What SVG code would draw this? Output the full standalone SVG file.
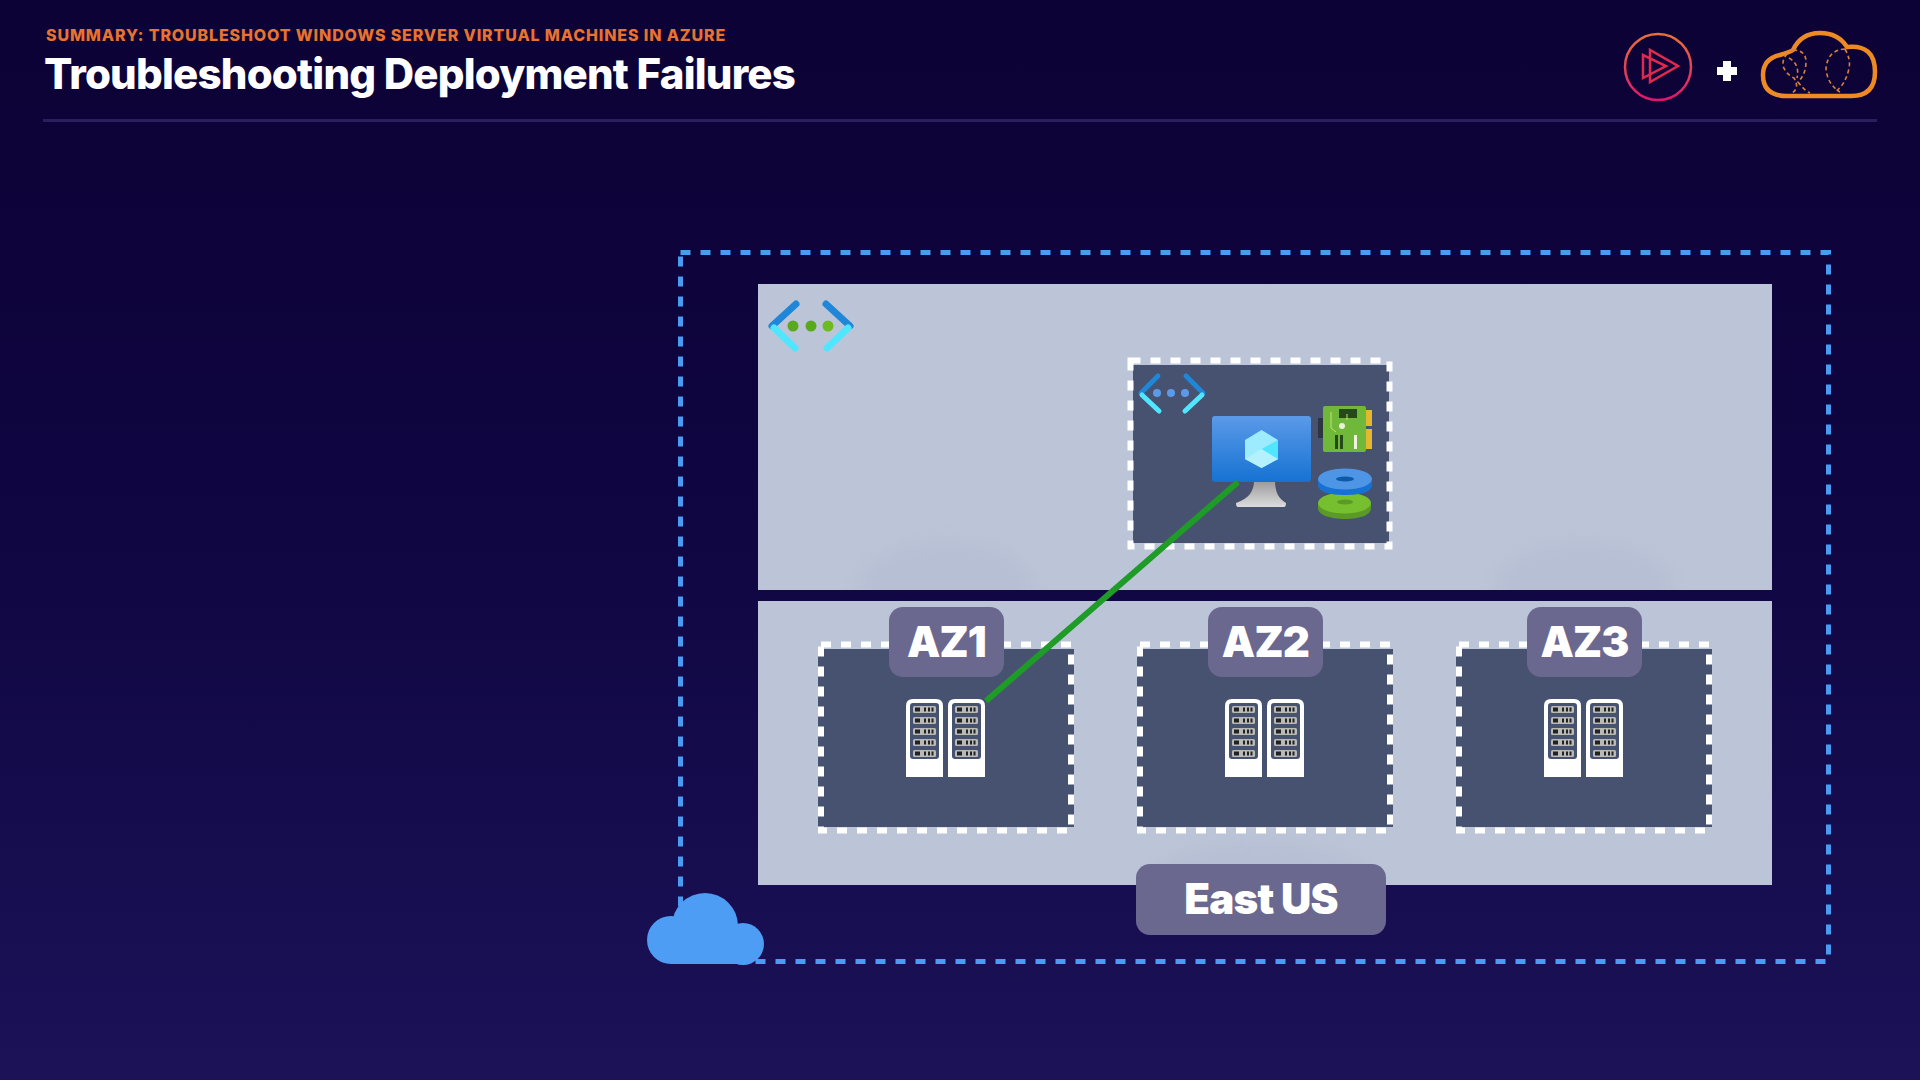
<svg xmlns="http://www.w3.org/2000/svg" width="1920" height="1080" viewBox="0 0 1920 1080">
<style>
.f{font-family:Inter,"Liberation Sans",sans-serif;font-weight:800}
.panel{fill:#bcc5d8}
.box{fill:#46526f}
.wd{fill:none;stroke:#fff;stroke-width:6;stroke-dasharray:10 10}
.tag{fill:#6b6890}
.tagt{font-size:42px;fill:#fff;text-anchor:middle;font-family:Inter,"Liberation Sans",sans-serif;font-weight:900;letter-spacing:-.8px}
.halo{fill:#a4abc4;opacity:.22;filter:url(#soft)}
</style>
<defs>
<linearGradient id="bg" x1="0" y1="0" x2="0" y2="1"><stop offset="0" stop-color="#0d0235"/><stop offset=".45" stop-color="#0f0540"/><stop offset="1" stop-color="#1b1258"/></linearGradient>
<linearGradient id="ps" x1="0" y1="0" x2="0" y2="1"><stop offset="0" stop-color="#e8713a"/><stop offset="1" stop-color="#e0166e"/></linearGradient>
<linearGradient id="mon" x1="0" y1="0" x2="0" y2="1"><stop offset="0" stop-color="#5b9ae8"/><stop offset="1" stop-color="#1672d2"/></linearGradient>
<linearGradient id="stand" x1="0" y1="0" x2="0" y2="1"><stop offset="0" stop-color="#9a9a9a"/><stop offset="1" stop-color="#dcdcdc"/></linearGradient>
<filter id="soft" x="-30%" y="-30%" width="160%" height="160%"><feGaussianBlur stdDeviation="9"/></filter>
<clipPath id="top"><rect x="758" y="284" width="1014" height="306"/></clipPath>
<clipPath id="bot"><rect x="758" y="601" width="1014" height="284"/></clipPath>
<g id="rack">
<path d="M7 0H30Q37 0 37 7V78H0V7Q0 0 7 0Z" fill="#fff"/>
<rect x="4" y="4" width="29" height="56" rx="3" fill="#46526f"/>
<g id="slot"><rect x="7" y="7" width="23" height="7" rx="1.5" fill="#b9bab6"/><rect x="9" y="8.500" width="5" height="4" fill="#222"/><rect x="18" y="8.500" width="2" height="4" fill="#222"/><rect x="22" y="8.500" width="2" height="4" fill="#222"/><rect x="25.500" y="8.500" width="2" height="4" fill="#222"/></g>
<use href="#slot" y="11"/><use href="#slot" y="22"/><use href="#slot" y="33"/><use href="#slot" y="44"/>
</g>
<g id="servers"><use href="#rack"/><use href="#rack" x="42"/></g>
</defs>
<rect width="1920" height="1080" fill="url(#bg)"/>
<g id="header">
<text class="f" x="46" y="41" font-size="16" font-weight="700" fill="#e8722f" letter-spacing=".86">SUMMARY: TROUBLESHOOT WINDOWS SERVER VIRTUAL MACHINES IN AZURE</text>
<text class="f" x="44" y="89" font-size="42" font-weight="900" fill="#fff" letter-spacing="-.8">Troubleshooting Deployment Failures</text>
<rect x="43" y="119" width="1834" height="3" fill="#2a1f5c"/>
</g>
<g id="logo-play">
<circle cx="1658" cy="67" r="33" fill="none" stroke="url(#ps)" stroke-width="2.500"/>
<path d="M1650 50V82L1678 66Z M1643 55V78L1666 66Z" fill="none" stroke="#e0294f" stroke-width="2.500"/>
</g>
<g id="plus"><path d="M1717 67h6v-6h8v6h6v8h-6v6h-8v-6h-6z" fill="#fff"/></g>
<g id="logo-cloud">
<path d="M1787 96Q1763 96 1763 75Q1763 59 1780 55Q1790 52 1793 50Q1801 33 1820 33Q1838 33 1847 47Q1875 44 1875 72Q1875 96 1851 96Z" fill="none" stroke="#ee8a24" stroke-width="4.500"/>
<g fill="none" stroke="#d9803c" stroke-width="1.600" stroke-dasharray="4 3">
<path d="M1793 50Q1806 50 1806 62Q1806 74 1798 82Q1804 90 1810 93"/>
<path d="M1793 50Q1782 55 1783 66Q1786 74 1794 78Q1800 88 1792 93"/>
<path d="M1789 58Q1800 64 1797 78"/>
<path d="M1845 49Q1851 60 1849 68Q1846 84 1835 92M1845 49Q1828 50 1826 68Q1827 84 1840 92"/>
</g>
</g>
<g id="outer-boundary"><rect x="680.500" y="252.500" width="1148" height="709" fill="none" stroke="#4b9bf2" stroke-width="5" stroke-dasharray="10 10"/></g>
<g id="vnet-panel">
<rect class="panel" x="758" y="284" width="1014" height="306"/>
<g clip-path="url(#top)"><ellipse class="halo" cx="946" cy="590" rx="90" ry="50"/><ellipse class="halo" cx="1584" cy="590" rx="90" ry="50"/></g>
<g id="vnet-icon">
<path d="M796 304L772 326" stroke="#2087d8" stroke-width="7" stroke-linecap="round" fill="none"/>
<path d="M774 328L795 348" stroke="#50e6ff" stroke-width="7" stroke-linecap="round" fill="none"/>
<path d="M826 304L850 326" stroke="#2087d8" stroke-width="7" stroke-linecap="round" fill="none"/>
<path d="M848 328L827 348" stroke="#50e6ff" stroke-width="7" stroke-linecap="round" fill="none"/>
<circle cx="793" cy="326" r="5.500" fill="#5aa81e"/><circle cx="811" cy="326" r="5.500" fill="#5aa81e"/><circle cx="828" cy="326" r="5.500" fill="#6cbc20"/>
</g>
</g>
<g id="region-panel"><rect class="panel" x="758" y="601" width="1014" height="284"/>
<g clip-path="url(#bot)"><ellipse class="halo" cx="1261" cy="885" rx="115" ry="45"/></g></g>
<g id="subnet">
<rect class="box" x="1133" y="365" width="256" height="178"/>
<rect class="wd" x="1130.500" y="360.500" width="259" height="186"/>
<g id="subnet-icon" fill="none" stroke-width="5" stroke-linecap="round">
<path d="M1158 376L1141 393" stroke="#2087d8"/><path d="M1142 395L1159 411" stroke="#50e6ff"/>
<path d="M1186 376L1203 393" stroke="#2087d8"/><path d="M1202 395L1185 411" stroke="#50e6ff"/>
<circle cx="1157" cy="393" r="4" fill="#5b9ae8" stroke="none"/><circle cx="1171" cy="393" r="4" fill="#5b9ae8" stroke="none"/><circle cx="1185" cy="393" r="4" fill="#5b9ae8" stroke="none"/>
</g>
<g id="vm-icon">
<path d="M1254 481H1275Q1275 497 1286 503Q1286 507 1284 507H1238Q1236 507 1236 503Q1254 497 1254 481Z" fill="url(#stand)"/>
<rect x="1212" y="416" width="99" height="66" rx="3" fill="url(#mon)"/>
<path d="M1261.500 430L1278 440V459L1261.500 468L1245 459V440Z" fill="#9cebff"/>
<path d="M1261.500 449L1278 440V459L1261.500 468Z" fill="#50e6ff"/>
<path d="M1261.500 449L1245 459L1261.500 468L1278 459Z" fill="#b5f0ff"/>
</g>
<g id="nic-icon">
<rect x="1318" y="418" width="6" height="20" fill="#2e3440"/>
<rect x="1365" y="410" width="7" height="16" fill="#e3b72f"/><rect x="1365" y="429" width="7" height="20" fill="#e3b72f"/>
<rect x="1323" y="406" width="43" height="46" rx="2" fill="#70b83a"/>
<rect x="1339" y="409" width="18" height="9" fill="#26491c"/>
<circle cx="1342" cy="426" r="3" fill="#e9f3d5"/>
<rect x="1335" y="435" width="3" height="14" fill="#26491c"/><rect x="1340" y="435" width="3" height="14" fill="#26491c"/><rect x="1354" y="435" width="3" height="14" fill="#f2f2e0"/>
<path d="M1331 412V428L1336 432M1347 414V420" stroke="#c5e36c" stroke-width="1" fill="none"/>
</g>
<g id="disk-icon">
<path d="M1318 503V508C1318 515 1330 519 1345 519C1360 519 1371 515 1371 508V503Z" fill="#5b9a26"/>
<ellipse cx="1344.500" cy="503" rx="26.500" ry="10.500" fill="#76bf2e"/>
<ellipse cx="1345" cy="502" rx="8" ry="2.500" fill="#5b9a26"/>
<path d="M1318 479V485C1318 492 1330 495 1345 495C1360 495 1372 492 1372 485V479Z" fill="#1672d2"/>
<ellipse cx="1345" cy="479" rx="27" ry="10.500" fill="#4f95e6"/>
<ellipse cx="1345" cy="479" rx="9" ry="2.500" fill="#0f5aa6"/>
</g>
</g>
<g id="az1">
<rect class="box" x="818" y="649" width="256" height="178"/>
<rect class="wd" x="821" y="644.500" width="250" height="186"/>
<use href="#servers" x="906" y="699"/>
</g>
<g id="az2">
<rect class="box" x="1137" y="649" width="256" height="178"/>
<rect class="wd" x="1140" y="644.500" width="250" height="186"/>
<use href="#servers" x="1225" y="699"/>
</g>
<g id="az3">
<rect class="box" x="1456" y="649" width="256" height="178"/>
<rect class="wd" x="1459" y="644.500" width="250" height="186"/>
<use href="#servers" x="1544" y="699"/>
</g>
<g id="connectors"><path d="M1238 482L986 701" stroke="#1f9b28" stroke-width="6" fill="none"/></g>
<g id="az1-tag"><rect class="tag" x="889" y="607" width="115" height="70" rx="14"/><text class="tagt" x="946.500" y="657">AZ1</text></g>
<g id="az2-tag"><rect class="tag" x="1208" y="607" width="115" height="70" rx="14"/><text class="tagt" x="1265.500" y="657">AZ2</text></g>
<g id="az3-tag"><rect class="tag" x="1527" y="607" width="115" height="70" rx="14"/><text class="tagt" x="1584.500" y="657">AZ3</text></g>
<g id="region-tag"><rect class="tag" x="1136" y="864" width="250" height="71" rx="14"/><text class="tagt" x="1261" y="914">East US</text></g>
<g id="cloud-icon" fill="#4e9df5"><circle cx="671" cy="940" r="24"/><circle cx="705" cy="926" r="33"/><circle cx="743" cy="944" r="21"/><rect x="671" y="930" width="72" height="34"/></g>
</svg>
